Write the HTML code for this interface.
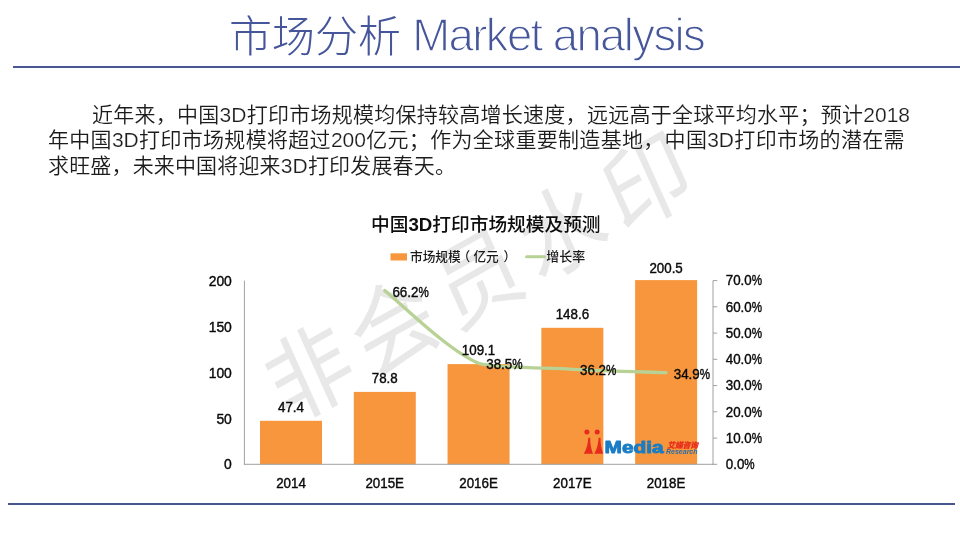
<!DOCTYPE html>
<html lang="zh-CN">
<head>
<meta charset="utf-8">
<title>市场分析 Market analysis</title>
<style>
html,body{margin:0;padding:0;background:#fff;}
body{width:960px;height:540px;position:relative;overflow:hidden;font-family:"Liberation Sans","Noto Sans CJK SC",sans-serif;}
.title{position:absolute;left:0;top:9.3px;width:960px;height:56px;line-height:56px;white-space:nowrap;color:#45569b;font-weight:300;font-size:43px;}
.title .cn{position:absolute;left:229px;top:0;}
.title .en{position:absolute;left:412.2px;top:-1.2px;font-size:45.5px;letter-spacing:-1.6px;-webkit-text-stroke:1.3px #fff;}
.hr1{position:absolute;left:13px;top:65.7px;width:947px;height:2px;background:#4b5694;}
.hr2{position:absolute;left:8px;top:503px;width:947px;height:2px;background:#48558f;}
.para{position:absolute;left:48px;top:102.1px;width:862px;color:#1c1c1c;font-size:21px;line-height:25.3px;font-weight:350;}
.para .la{font-weight:400;-webkit-text-stroke:0.2px #fff;}
.para div.l2{width:856.5px;}
.para div{white-space:nowrap;text-align:justify;text-align-last:justify;height:25.3px;}
.para div.l1{margin-left:44px;}
.para div.l3{text-align-last:left;letter-spacing:0.16px;}
.wm{position:absolute;left:0;top:0;width:960px;height:540px;pointer-events:none;}
.chart{position:absolute;left:0;top:0;width:960px;height:540px;}
</style>
</head>
<body>
<div class="title"><span class="cn">市场分析</span><span class="en">Market analysis</span></div>
<div class="hr1"></div>
<svg class="wm" viewBox="0 0 960 540">
<text x="0" y="0" transform="translate(483,277) scale(1,1.12) rotate(-26.8)" text-anchor="middle" dominant-baseline="central" font-family="'Liberation Sans','Noto Sans CJK SC',sans-serif" font-weight="400" font-size="85" letter-spacing="9.6" fill="#e8e8e8">非会员水印</text>
</svg>
<div class="para">
<div class="l1">近年来，中国<span class="la">3D</span>打印市场规模均保持较高增长速度，远远高于全球平均水平；预计<span class="la">2018</span></div>
<div class="l2">年中国<span class="la">3D</span>打印市场规模将超过<span class="la">200</span>亿元；作为全球重要制造基地，中国<span class="la">3D</span>打印市场的潜在需</div>
<div class="l3">求旺盛，未来中国将迎来<span class="la">3D</span>打印发展春天。</div>
</div>
<svg class="chart" viewBox="0 0 960 540" font-family="'Liberation Sans','Noto Sans CJK SC',sans-serif">
<g fill="#f7963c">
<rect x="260.00" y="420.8" width="62" height="43.5"/>
<rect x="353.78" y="391.9" width="62" height="72.4"/>
<rect x="447.56" y="364.1" width="62" height="100.2"/>
<rect x="541.34" y="327.8" width="62" height="136.5"/>
<rect x="635.12" y="280.1" width="62" height="184.2"/>
</g>
<g stroke="#a0a0a0" stroke-width="1" fill="none">
<path d="M244.4 280.6V464.8"/>
<path d="M243.9 464.3H713.5"/>
<path d="M713 280.6V464.8"/>
<path d="M713 280.6h4.2M713 306.8h4.2M713 333.1h4.2M713 359.3h4.2M713 385.6h4.2M713 411.8h4.2M713 438.1h4.2M713 464.3h4.2"/>
</g>
<path d="M384.8 290.6C400.4 302.7 447.3 350.1 478.6 363.3C494.6 367.8 541.1 367.7 572.3 369.3C603.6 370.9 650.5 372.1 666.1 372.7" fill="none" stroke="#b7d294" stroke-width="3.3" stroke-linecap="round"/>
<text x="485.8" y="230.7" text-anchor="middle" font-size="18.7" font-weight="500" fill="#0d0d0d">中国<tspan font-weight="700">3D</tspan>打印市场规模及预测</text>
<rect x="390.5" y="253.3" width="16.5" height="7.2" fill="#f7963c"/>
<text x="410" y="260.7" font-size="12.7" font-weight="500" fill="#1a1a1a">市场规模<tspan dx="-3.2">（</tspan><tspan dx="3.2">亿元</tspan><tspan dx="4.6">）</tspan></text>
<path d="M526.5 256.8H544.5" stroke="#b7d294" stroke-width="3" stroke-linecap="round"/>
<text x="546.3" y="260.7" font-size="13" font-weight="500" fill="#1a1a1a">增长率</text>
<g font-size="14.2" fill="#0a0a0a" stroke="#0a0a0a" stroke-width="0.4" transform="scale(0.98,1)">
<text x="236.6" y="285.8" text-anchor="end">200</text>
<text x="236.6" y="331.7" text-anchor="end">150</text>
<text x="236.6" y="377.7" text-anchor="end">100</text>
<text x="236.6" y="423.6" text-anchor="end">50</text>
<text x="236.6" y="469.5" text-anchor="end">0</text>
</g>
<g font-size="14.2" fill="#0a0a0a" stroke="#0a0a0a" stroke-width="0.4" transform="scale(0.94,1)">
<text x="772.1" y="285.5">70.0<tspan textLength="11" lengthAdjust="spacingAndGlyphs">%</tspan></text>
<text x="772.1" y="311.7">60.0<tspan textLength="11" lengthAdjust="spacingAndGlyphs">%</tspan></text>
<text x="772.1" y="338.0">50.0<tspan textLength="11" lengthAdjust="spacingAndGlyphs">%</tspan></text>
<text x="772.1" y="364.2">40.0<tspan textLength="11" lengthAdjust="spacingAndGlyphs">%</tspan></text>
<text x="772.1" y="390.5">30.0<tspan textLength="11" lengthAdjust="spacingAndGlyphs">%</tspan></text>
<text x="772.1" y="416.7">20.0<tspan textLength="11" lengthAdjust="spacingAndGlyphs">%</tspan></text>
<text x="772.1" y="443.0">10.0<tspan textLength="11" lengthAdjust="spacingAndGlyphs">%</tspan></text>
<text x="772.1" y="469.2">0.0<tspan textLength="11" lengthAdjust="spacingAndGlyphs">%</tspan></text>
<text x="309.6" y="487.8" text-anchor="middle">2014</text>
<text x="409.3" y="487.8" text-anchor="middle">2015E</text>
<text x="509.1" y="487.8" text-anchor="middle">2016E</text>
<text x="608.9" y="487.8" text-anchor="middle">2017E</text>
<text x="708.6" y="487.8" text-anchor="middle">2018E</text>
<text x="309.6" y="412.1" text-anchor="middle">47.4</text>
<text x="409.3" y="382.9" text-anchor="middle">78.8</text>
<text x="509.1" y="354.7" text-anchor="middle">109.1</text>
<text x="608.9" y="318.8" text-anchor="middle">148.6</text>
<text x="708.6" y="272.9" text-anchor="middle">200.5</text>
<text x="417.5" y="296.6">66.2<tspan textLength="11" lengthAdjust="spacingAndGlyphs">%</tspan></text>
<text x="517.3" y="369.2">38.5<tspan textLength="11" lengthAdjust="spacingAndGlyphs">%</tspan></text>
<text x="617.1" y="375.1">36.2<tspan textLength="11" lengthAdjust="spacingAndGlyphs">%</tspan></text>
<text x="716.8" y="379.2">34.9<tspan textLength="11" lengthAdjust="spacingAndGlyphs">%</tspan></text>
</g>
<g fill="#e62a1c">
<circle cx="586.9" cy="432.1" r="2.5"/>
<circle cx="597.2" cy="432.1" r="2.5"/>
<path d="M588.3 437.8C588 443.5 586.8 448.8 583.8 453.7H593C591 449 590.1 443.5 590.2 437.8Z"/>
<path d="M598.6 437.8C598.3 443.5 597.2 448.8 594.3 453.7H603.2C601.3 449 600.4 443.5 600.5 437.8Z"/>
</g>
<text x="604.6" y="453.2" font-size="16" font-weight="700" fill="#1b7dc4" stroke="#1b7dc4" stroke-width="0.9" stroke-linejoin="round" textLength="59" lengthAdjust="spacingAndGlyphs">Media</text>
<text x="667.2" y="447.6" font-size="7.7" font-weight="700" font-style="italic" fill="#e62a1c" stroke="#e62a1c" stroke-width="0.3">艾媒咨询</text>
<text x="666" y="454.2" font-size="7" font-weight="700" font-style="italic" fill="#2d6da8">Research</text>
</svg>
<div class="hr2"></div>
</body>
</html>
